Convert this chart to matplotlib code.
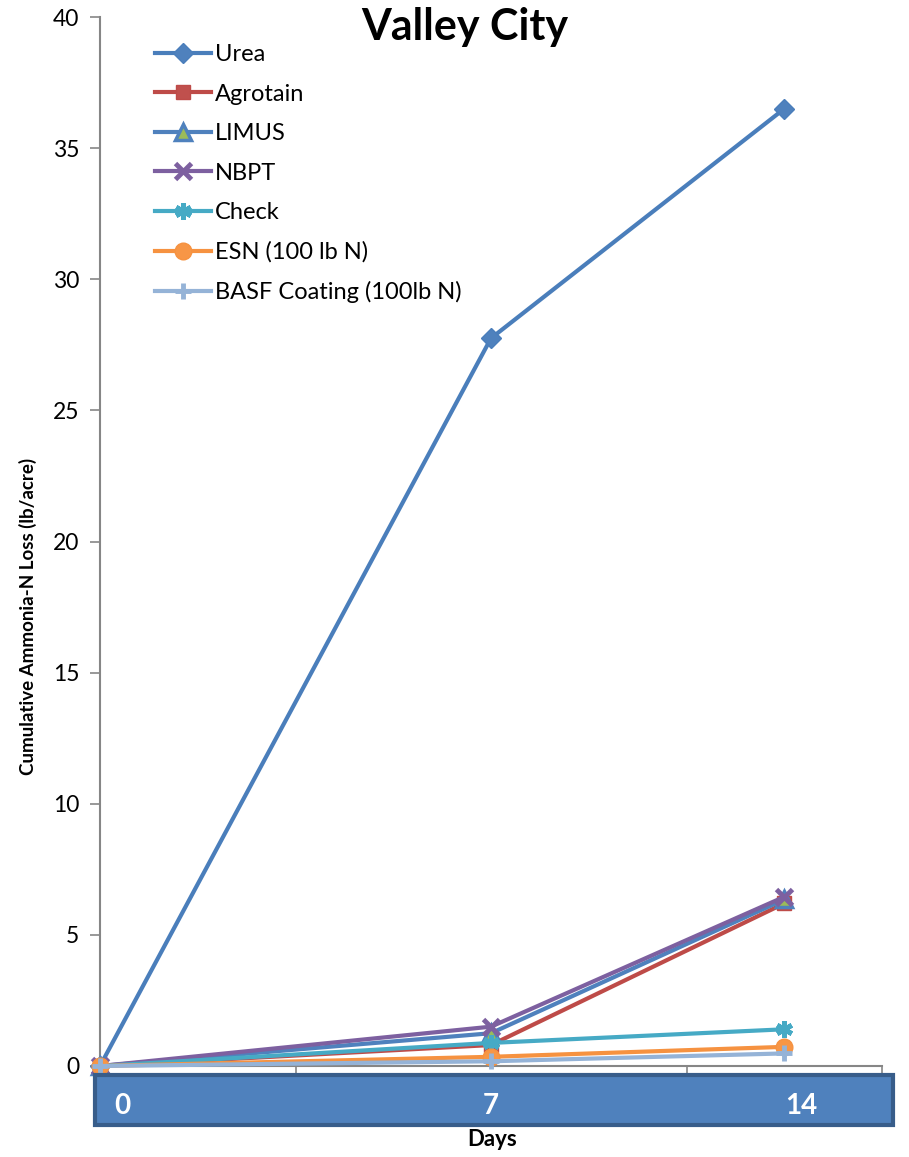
import matplotlib
matplotlib.use("Agg")
import matplotlib.pyplot as plt
from matplotlib.patches import Rectangle
import matplotlib.transforms as mtransforms

plt.rcParams['font.family'] = ['Lato', 'DejaVu Sans']

# Data
day_labels = ["0", "7", "14"]
x_pos = [0, 7, 12.25]          # plotted horizontal positions of sampling days
series_names = ["Urea", "Agrotain", "LIMUS", "NBPT", "Check",
                "ESN (100 lb N)", "BASF Coating (100lb N)"]
urea = [0, 27.75, 36.5]
agrotain = [0, 0.8, 6.2]
limus = [0, 1.25, 6.35]
nbpt = [0, 1.5, 6.45]
check = [0, 0.88, 1.4]
esn = [0, 0.35, 0.73]
basf = [0, 0.18, 0.48]
y_ticks = [0, 5, 10, 15, 20, 25, 30, 35, 40]

fig = plt.figure(figsize=(9.09, 11.57), dpi=100)
ax = fig.add_axes([100/909, (1157-1066)/1157, 782/909, 1049/1157])

styles = [
    (urea, dict(color="#4A7EBB", marker="D", markersize=10, mfc="#4F81BD", mec="#4A7EBB")),
    (agrotain, dict(color="#BE4B48", marker="s", markersize=10, mfc="#C0504D", mec="#BE4B48")),
    (limus, dict(color="#4F81BD", marker="^", markersize=11, mfc="#9BBB59", mec="#4F81BD", mew=2.5)),
    (nbpt, dict(color="#7D60A0", marker="x", markersize=11, mew=3.5)),
    (check, dict(color="#46AAC5", marker=(6, 2, 0), markersize=12, mew=3.5)),
    (esn, dict(color="#F69240", marker="o", markersize=12, mfc="#F79646", mec="#F69240")),
    (basf, dict(color="#95B3D7", marker="+", markersize=12, mew=3.5)),
]
for (vals, st), name in zip(styles, series_names):
    ax.plot(x_pos, vals, linewidth=3, label=name, **st, zorder=3, clip_on=False)

ax.set_xlim(0, 14)
ax.set_ylim(0, 40)
ax.set_yticks(y_ticks)
ax.set_yticklabels([str(t) for t in y_ticks], fontsize=16.5)
ax.set_xticks([3.5, 10.5, 14])
ax.set_xticklabels([])
ax.tick_params(axis='y', length=7, width=1.2, color="#868686", pad=8)
ax.tick_params(axis='x', length=7, width=1.2, color="#868686")
for s in ["top", "right"]:
    ax.spines[s].set_visible(False)
for s in ["left", "bottom"]:
    ax.spines[s].set_color("#868686")
    ax.spines[s].set_linewidth(1.5)

leg = ax.legend(loc="upper left", bbox_to_anchor=(0.058, 0.983), frameon=False,
                fontsize=17, handlelength=2.4, labelspacing=0.78, handletextpad=0.15,
                borderaxespad=0)

# x-axis label box
fig.patches.append(Rectangle((95/909, (1157-1125)/1157), 798/909, 50/1157,
                             transform=fig.transFigure, facecolor="#4F81BD",
                             edgecolor="#385D8A", linewidth=3, zorder=5))
trans = mtransforms.blended_transform_factory(ax.transData, fig.transFigure)
offsets = [0.4, 0, 0.3]
for xp, lab, off in zip(x_pos, day_labels, offsets):
    fig.text(xp + off, (1157-1106)/1157, lab, transform=trans, ha="center", va="center",
             color="white", fontsize=20, fontweight="bold", zorder=6)

fig.text(492/909, (1157-1140)/1157, "Days", ha="center", va="center",
         fontsize=16, fontweight="bold")
fig.text(28/909, 541/1157, "Cumulative Ammonia-N Loss (lb/acre)", rotation=90,
         ha="center", va="center", fontsize=13.5, fontweight="bold",
         family=["Liberation Sans Narrow", "Lato", "DejaVu Sans"])
fig.text(465/909, (1157-27)/1157, "Valley City", ha="center", va="center",
         fontsize=31, fontweight="bold")

fig.savefig("out.png", dpi=100)
